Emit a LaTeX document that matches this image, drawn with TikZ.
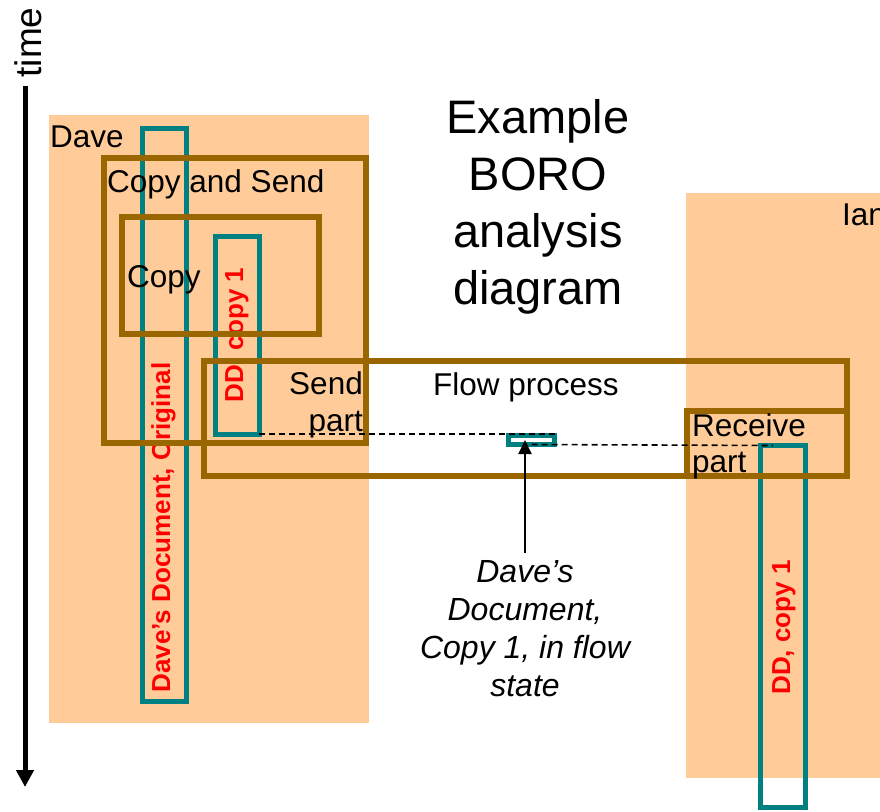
\documentclass[tikz,border=0pt]{standalone}
\usepackage{fontspec}
\setmainfont{Liberation Sans}
\usetikzlibrary{arrows.meta}
\definecolor{peach}{RGB}{255,204,153}
\definecolor{boxbrown}{RGB}{153,102,0}
\definecolor{docteal}{RGB}{0,128,128}

\begin{document}
\begin{tikzpicture}[x=1pt,y=-1pt,
  dims/.style 2 args={minimum width=#1pt, minimum height=#2pt},
  region/.style={fill=peach, draw=none, inner sep=0pt, outer sep=0pt},
  activity/.style={draw=boxbrown, line width=6pt, inner sep=0pt, outer sep=0pt},
  document/.style={draw=docteal, line width=5pt, inner sep=0pt, outer sep=0pt},
  label/.style={font=\fontsize{31.5}{37}\selectfont, inner sep=0pt},
  doclabel/.style={text=red, font=\fontsize{26}{31}\selectfont\bfseries, rotate=90, anchor=base, inner sep=0pt},
  dashline/.style={draw=black, line width=1.6pt, dash pattern=on 6pt off 4pt},
]
\useasboundingbox (0,0) rectangle (880,811);

% time axis
\node[font=\fontsize{37}{44}\selectfont, rotate=90, anchor=base, inner sep=0pt] (timelabel) at (41,42.5) {time};
\coordinate (tstart) at (25,86);
\coordinate (tend) at (25,787);
\draw[line width=5pt, -{Triangle[width=17pt,length=17pt]}] (tstart) -- (tend);

% lifetimes of Dave and Ian
\node[region, dims={320}{608}] (dave) at (209,419) {};
\node[region, dims={214}{585}] (ian) at (793,485.5) {};

% document states
\node[document, dims={44}{573}] (ddo) at (164,414.5) {};
\node[document, dims={44}{198}] (dd1) at (237,335) {};
\node[document, dims={44.5}{362}] (dd2) at (783,626.5) {};
\node[doclabel] (ddolabel) at (170,527.5) {Dave’s Document, Original};
\node[doclabel] (dd1label) at (243,335) {DD, copy 1};
\node[doclabel] (dd2label) at (790,627.5) {DD, copy 1};

% activities
\node[activity, dims={262}{285}] (cas) at (235,300.5) {};
\node[activity, dims={197}{117}] (copy) at (220.5,275.5) {};
\node[activity, dims={643}{115}] (flow) at (525.5,418.5) {};
\node[activity, dims={160}{65}] (recv) at (767,443.5) {};

% labels
\node[label, anchor=base west] (davelabel) at (50,147) {Dave};
\node[label, anchor=base west] (ianlabel) at (842,225) {Ian};
\node[label, anchor=base west] (caslabel) at (107,192) {Copy and Send};
\node[label, anchor=base west] (copylabel) at (127,287) {Copy};
\node[label, anchor=base west] (flowlabel) at (433,395) {Flow process};
\node[label, align=right, anchor=east] (sendlabel) at (363,405.3) {Send\\part};
\node[label, align=left, anchor=west, font=\fontsize{31.5}{36}\selectfont] (recvlabel) at (692,446.8) {Receive\\part};
\node[inner sep=0pt, align=center, font=\fontsize{47}{57}\selectfont] (title) at (538,206.8) {Example\\BORO\\analysis\\diagram};

% document in flow state
\node[document, fill=white, dims={46}{9}] (flowdoc) at (531.5,440) {};
\draw[dashline] (dd1.south east) -- (dd1.south east -| flowdoc.east);
\draw[dashline] (flowdoc.south) -- ([xshift=12pt]dd2.north west);

\node[inner sep=0pt, align=center, font=\fontsize{32}{38}\selectfont\itshape] (flowdoclabel) at (525,628.3) {Dave’s\\Document,\\Copy 1, in flow\\state};
\draw[line width=2pt, -{Triangle[width=13pt,length=14pt]}] ([yshift=7pt]flowdoclabel.north) -- (flowdoclabel.north |- flowdoc.center);
\end{tikzpicture}
\end{document}
